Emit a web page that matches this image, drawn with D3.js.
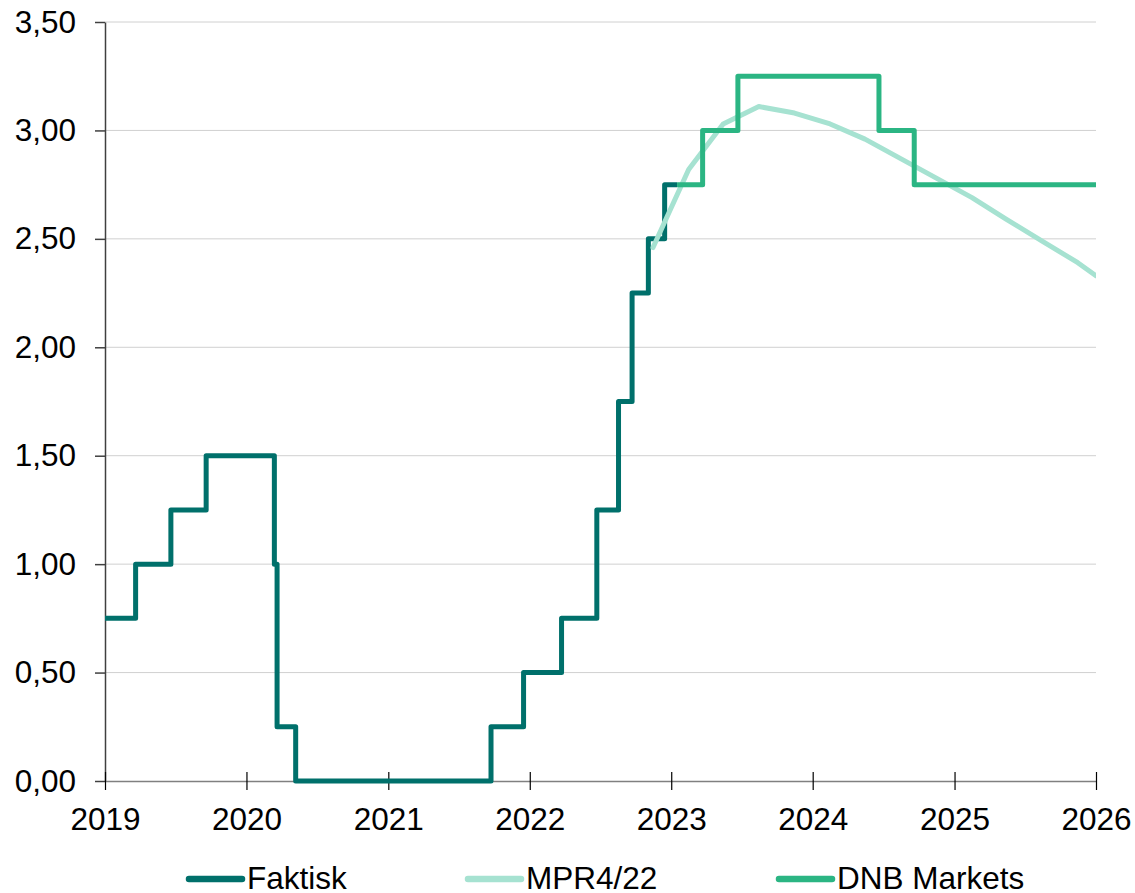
<!DOCTYPE html>
<html>
<head>
<meta charset="utf-8">
<script src="https://cdn.jsdelivr.net/npm/d3@7"></script>
<style>
  html, body { margin: 0; padding: 0; background: #fff; }
  svg { display: block; font-family: "Liberation Sans", Arial, sans-serif; }
</style>
</head>
<body>
<svg id="chart" width="1135" height="893"></svg>
<script>
// ---- Data ----
const faktiskDates  = ["2019-01-01","2019-03-21","2019-06-20","2019-09-19","2020-03-13","2020-03-20","2020-05-07","2021-09-23","2021-12-16","2022-03-24","2022-06-23","2022-08-18","2022-09-22","2022-11-03","2022-12-15","2023-01-16"];
const faktiskValues = [0.75, 1.00, 1.25, 1.50, 1.00, 0.25, 0.00, 0.25, 0.50, 0.75, 1.25, 1.75, 2.25, 2.50, 2.75, 2.75];

const mprDates  = ["2022-11-15","2023-02-15","2023-05-15","2023-08-15","2023-11-15","2024-02-15","2024-05-15","2024-08-15","2024-11-15","2025-02-15","2025-05-15","2025-08-15","2025-11-15","2026-01-01"];
const mprValues = [2.46, 2.82, 3.03, 3.11, 3.08, 3.03, 2.96, 2.87, 2.78, 2.69, 2.59, 2.49, 2.39, 2.33];

const dnbDates  = ["2023-01-16","2023-03-23","2023-06-22","2024-06-20","2024-09-19","2026-01-01"];
const dnbValues = [2.75, 3.00, 3.25, 3.00, 2.75, 2.75];

const yTicks = [0, 0.5, 1.0, 1.5, 2.0, 2.5, 3.0, 3.5];
const xTickYears = [2019, 2020, 2021, 2022, 2023, 2024, 2025, 2026];
const seriesNames = ["Faktisk", "MPR4/22", "DNB Markets"];
const seriesColors = ["#00706b", "#a6e2d1", "#2bb583"];

// ---- Layout ----
const W = 1135, H = 893;
const margin = { left: 105, right: 39, top: 22, bottom: 112 };
const innerW = W - margin.left - margin.right;
const innerH = H - margin.top - margin.bottom;
const FS = 31.5;

const parse = d3.timeParse("%Y-%m-%d");
const x = d3.scaleTime()
  .domain([new Date(2019, 0, 1), new Date(2026, 0, 1)])
  .range([0, innerW]);
const y = d3.scaleLinear().domain([0, 3.5]).range([innerH, 0]);

const svg = d3.select("#chart");
const g = svg.append("g").attr("transform", `translate(${margin.left},${margin.top})`);

// gridlines
g.append("g").selectAll("line")
  .data(yTicks.filter(v => v > 0))
  .join("line")
  .attr("x1", 0).attr("x2", innerW)
  .attr("y1", d => y(d)).attr("y2", d => y(d))
  .attr("stroke", "#d0d0d0").attr("stroke-width", 1);

// y axis
const fmt = v => d3.format(".2f")(v).replace(".", ",");
const yAxis = g.append("g")
  .call(d3.axisLeft(y).tickValues(yTicks).tickFormat(fmt).tickSize(10).tickPadding(19).tickSizeOuter(0));
yAxis.select(".domain").attr("stroke", "#404040").attr("stroke-width", 1.5);
yAxis.selectAll(".tick line").attr("stroke", "#404040").attr("stroke-width", 1.5);
yAxis.selectAll("text").attr("font-size", FS).attr("fill", "#000")
  .attr("font-family", "Liberation Sans, Arial, sans-serif");

// x axis
const xAxis = g.append("g").attr("transform", `translate(0,${innerH})`)
  .call(d3.axisBottom(x).tickValues(xTickYears.map(yr => new Date(yr, 0, 1)))
    .tickFormat(d3.timeFormat("%Y")).tickSize(9).tickSizeOuter(0));
xAxis.select(".domain").attr("stroke", "#808080").attr("stroke-width", 1.5);
xAxis.selectAll(".tick line").attr("y1", -9).attr("y2", 9).attr("stroke", "#000").attr("stroke-width", 1.2);
xAxis.selectAll("text").attr("font-size", FS).attr("fill", "#000").attr("y", 27)
  .attr("font-family", "Liberation Sans, Arial, sans-serif");

// series
svg.append("defs").append("clipPath").attr("id", "clip")
  .append("rect").attr("x", -3).attr("y", -10).attr("width", innerW + 3).attr("height", innerH + 20);

const mk = (dates, vals) => dates.map((d, i) => ({ date: parse(d), value: vals[i] }));
const series = [
  { data: mk(faktiskDates, faktiskValues), curve: d3.curveStepAfter, color: seriesColors[0] },
  { data: mk(mprDates, mprValues), curve: d3.curveLinear, color: seriesColors[1] },
  { data: mk(dnbDates, dnbValues), curve: d3.curveStepAfter, color: seriesColors[2] }
];

const lines = g.append("g").attr("clip-path", "url(#clip)");
series.forEach(s => {
  const line = d3.line().x(d => x(d.date)).y(d => y(d.value)).curve(s.curve);
  lines.append("path")
    .datum(s.data)
    .attr("d", line)
    .attr("fill", "none")
    .attr("stroke", s.color)
    .attr("stroke-width", 5)
    .attr("stroke-linejoin", "round")
    .attr("stroke-linecap", s.curve === d3.curveLinear ? "round" : "butt");
});

// legend
const legendX = [189, 468, 779];
const legendY = 879;
const legend = svg.append("g");
seriesNames.forEach((name, i) => {
  legend.append("line")
    .attr("x1", legendX[i]).attr("x2", legendX[i] + 53)
    .attr("y1", legendY).attr("y2", legendY)
    .attr("stroke", seriesColors[i]).attr("stroke-width", 6.5).attr("stroke-linecap", "round");
  legend.append("text")
    .attr("x", legendX[i] + 58).attr("y", legendY + 10)
    .attr("font-size", FS).attr("fill", "#000")
    .text(name);
});
</script>
</body>
</html>
